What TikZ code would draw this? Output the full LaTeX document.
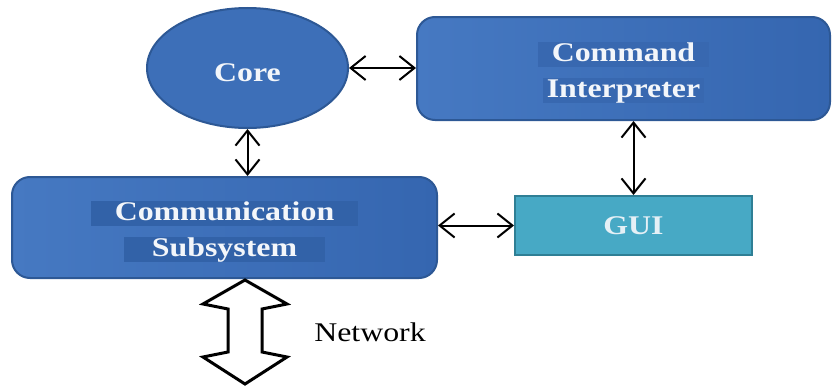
\documentclass[tikz,border=0pt]{standalone}
\usepackage{fontspec}
\usetikzlibrary{shapes.geometric,arrows.meta}
\newfontfamily\labfont[FakeStretch=1.18]{Liberation Serif}
\definecolor{boxblue}{HTML}{3D6FB8}
\definecolor{boxlight}{HTML}{4679C2}
\definecolor{boxdark}{HTML}{3566B0}
\definecolor{boxedge}{HTML}{2D5895}
\definecolor{hlblue}{HTML}{3262A8}
\definecolor{hlsoft}{HTML}{3868B0}
\definecolor{guifill}{HTML}{47A9C5}
\definecolor{guiedge}{HTML}{2F7F95}
\definecolor{labwhite}{HTML}{F3F6FA}
% a text line on a slightly darker strip
\newcommand\hlline[3]{{\setlength\fboxsep{0pt}\colorbox{#1}{\rule[-6pt]{0pt}{25pt}\hspace{#2}#3\hspace{#2}}}}
\newcommand\toppad{\rule{0pt}{27pt}}
\tikzset{
  lab/.style={text=labwhite, font=\labfont\fontsize{27}{36}\selectfont\bfseries, align=center},
  bluebox/.style={lab, rectangle, rounded corners=18pt, draw=boxedge, line width=2pt,
    left color=boxlight, right color=boxdark, inner sep=0pt},
  corenode/.style={lab, ellipse, draw=boxedge, line width=2pt, fill=boxblue, inner sep=0pt},
  guinode/.style={rectangle, draw=guiedge, line width=2pt, fill=guifill, inner sep=0pt,
    text=labwhite!92!guifill, font=\labfont\fontsize{27}{35}\selectfont\bfseries},
  biarrow/.style={line width=2pt,
    {Straight Barb[length=15pt,width=24pt]}-{Straight Barb[length=15pt,width=24pt]}},
  blockarrow/.style={draw=black, line width=3pt, fill=white, line join=miter}
}
\begin{document}
\begin{tikzpicture}[x=1pt,y=-1pt]
\useasboundingbox (0,0) rectangle (835,388);
% main components
\node[corenode, minimum width=201pt, minimum height=120pt] (core) at (247.5,68) {\toppad Core};
\node[bluebox, minimum width=413pt, minimum height=103pt] (cmd) at (623.5,68.5)
  {\toppad\hlline{hlsoft}{14pt}{Command}\\\hlline{hlsoft}{4pt}{Interpreter}};
\node[bluebox, minimum width=425pt, minimum height=101pt] (comm) at (224.5,227.5)
  {\toppad\hlline{hlblue}{24pt}{Communication}\\\hlline{hlblue}{28pt}{Subsystem}};
\node[guinode, minimum width=237pt, minimum height=59pt] (gui) at (633.5,225.5) {GUI};
% two-way links
\draw[biarrow] (core.east) -- (core.east -| cmd.west);
\draw[biarrow] (core.south) -- (core.south |- comm.north);
\draw[biarrow] (gui.north) -- (gui.north |- cmd.south);
\draw[biarrow] (gui.west) -- (gui.west -| comm.east);
% network block arrow
\coordinate (nettop) at (245,280);
\draw[blockarrow] (nettop) -- (287,304) -- (262,309) -- (262,352) -- (287,357)
  -- (245,384) -- (203,357) -- (228,352) -- (228,309) -- (203,304) -- cycle;
\node[font=\labfont\fontsize{27}{33}\selectfont, text=black] (net) at (370,332) {Network};
\end{tikzpicture}
\end{document}
